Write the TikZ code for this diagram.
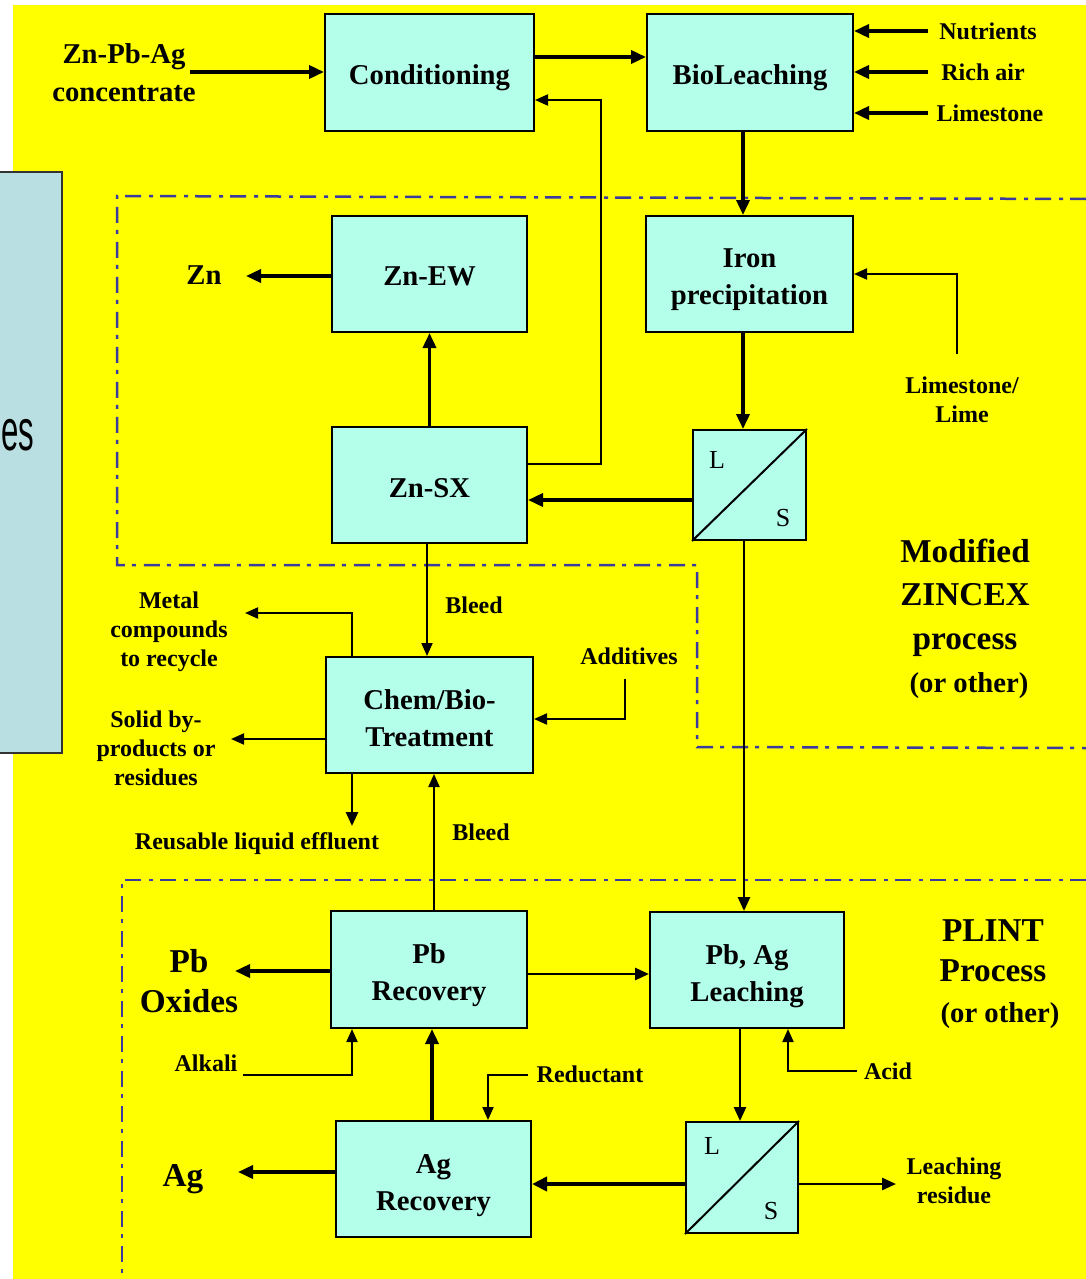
\documentclass[tikz,border=0pt]{standalone}
\usepackage{fontspec}
\setmainfont{Liberation Serif}
\newfontfamily\arialf{Liberation Sans}
\usetikzlibrary{arrows.meta}
\definecolor{bgyellow}{RGB}{255,255,0}
\definecolor{boxfill}{RGB}{180,255,234}
\definecolor{panelfill}{RGB}{185,223,226}
\definecolor{regionblue}{RGB}{58,58,160}
\newcommand\fbig{\fontsize{28.7}{37}\selectfont\bfseries}
\newcommand\fsmall{\fontsize{24}{29}\selectfont\bfseries}
\newcommand\fhuge{\fontsize{33.3}{43.5}\selectfont\bfseries}
\newcommand\fls{\fontsize{26}{26}\selectfont\mdseries}
\tikzset{
 box/.style={draw=black, fill=boxfill, line width=2pt, inner sep=0pt},
 boxtext/.style={inner sep=0pt, align=center, font=\fbig},
 lbl/.style={inner sep=0pt, align=center, font=\fsmall},
 lblbig/.style={inner sep=0pt, align=center, font=\fbig},
 lblhuge/.style={inner sep=0pt, align=center, font=\fhuge},
 lslbl/.style={inner sep=0pt, font=\fls},
 thk/.style={line width=3.5pt, -{Triangle[length=15pt,width=13pt]}},
 med/.style={line width=2.6pt, -{Triangle[length=14pt,width=12pt]}},
 thn/.style={line width=2pt, -{Triangle[length=13pt,width=11pt]}},
 plain/.style={line width=2pt},
 region/.style={draw=regionblue, line width=2.5pt, dash pattern=on 16pt off 7pt on 4pt off 8pt},
}
\begin{document}
\begin{tikzpicture}[x=1pt,y=-1pt]
\useasboundingbox (0,0) rectangle (1086,1279);
% backgrounds
\fill[white] (0,0) rectangle (1086,1279);
\fill[bgyellow] (13,5) rectangle (1086,1279);
% left panel
\fill[panelfill] (-2,172) rectangle (62,753);
\node[anchor=base west, inner sep=0pt, font=\arialf\fontsize{40}{40}\selectfont] (paneltext) at (1,450) {\scalebox{0.78}[1.45]{es}};
\draw[line width=2pt, draw=black!80] (-2,172) rectangle (62,753);
% regions
\draw[region] (1086,199) -- (117,196) -- (117,565) -- (697,565) -- (697,747) -- (1086,748);
\draw[region] (1086,880) -- (122,880) -- (122,1282);

% process boxes
\node[box, minimum width=209pt, minimum height=117pt] (cond) at (429.5,72.5) {};
\node[box, minimum width=206pt, minimum height=117pt] (bio) at (750,72.5) {};
\node[box, minimum width=195pt, minimum height=116pt] (znew) at (429.5,274) {};
\node[box, minimum width=207pt, minimum height=116pt] (iron) at (749.5,274) {};
\node[box, minimum width=195pt, minimum height=116pt] (znsx) at (429.5,485) {};
\node[box, minimum width=113pt, minimum height=110pt] (ls1) at (749.5,485) {};
\node[box, minimum width=207pt, minimum height=116pt] (chem) at (429.5,715) {};
\node[box, minimum width=196pt, minimum height=117pt] (pbrec) at (429,969.5) {};
\node[box, minimum width=194pt, minimum height=116pt] (leach) at (747,970) {};
\node[box, minimum width=195pt, minimum height=116pt] (agrec) at (433.5,1179) {};
\node[box, minimum width=112pt, minimum height=111pt] (ls2) at (742,1177.5) {};
% box texts
\node[boxtext] (condt) at ([yshift=-5pt]cond.center) {Conditioning};
\node[boxtext] (biot) at ([yshift=-5pt]bio.center) {BioLeaching};
\node[boxtext] (znewt) at ([yshift=-2pt]znew.center) {Zn-EW};
\node[boxtext] (iront) at ([yshift=-6pt]iron.center) {Iron\\precipitation};
\node[boxtext] (znsxt) at ([yshift=-3pt]znsx.center) {Zn-SX};
\node[boxtext] (chemt) at ([yshift=-3pt]chem.center) {Chem/Bio-\\Treatment};
\node[boxtext] (pbrect) at ([yshift=-6pt]pbrec.center) {Pb\\Recovery};
\node[boxtext] (leacht) at ([yshift=-6pt]leach.center) {Pb, Ag\\Leaching};
\node[boxtext] (agrect) at ([yshift=-7pt]agrec.center) {Ag\\Recovery};
% separators
\draw[plain] (ls1.south west) -- (ls1.north east);
\node[lslbl] (ls1L) at (717,460) {L};
\node[lslbl] (ls1S) at (783,518) {S};
\draw[plain] (ls2.south west) -- (ls2.north east);
\node[lslbl] (ls2L) at (712,1146) {L};
\node[lslbl] (ls2S) at (771,1211) {S};

% labels
\node[lblbig] (feedlbl) at (124,73) {Zn-Pb-Ag\\[1pt]concentrate};
\node[lbl] (nutlbl) at (988,31) {Nutrients};
\node[lbl] (airlbl) at (983,72) {Rich air};
\node[lbl] (limlbl) at (990,113) {Limestone};
\node[lbl] (limelbl) at (962,400) {Limestone/\\Lime};
\node[lblbig] (znlbl) at (204,275) {Zn};
\node[lbl] (metallbl) at (169,632) {Metal\\compounds\\to recycle};
\node[lbl] (solidlbl) at (156,748) {Solid by-\\products or\\residues};
\node[lbl] (reuselbl) at (257,844) {Reusable liquid effluent};
\node[lbl] (bleed1) at (474,605) {Bleed};
\node[lbl] (bleed2) at (481,832) {Bleed};
\node[lbl] (addlbl) at (629,656) {Additives};
\node[lblhuge] (zincex) at (965,597.5) {Modified\\ZINCEX\\process};
\node[lblbig] (other1) at (969,686) {(or other)};
\node[lblhuge] (plint) at (993,951) {PLINT\\[-3.5pt]Process};
\node[lblbig] (other2) at (1000,1016) {(or other)};
\node[lblhuge] (pbolbl) at (189,981) {Pb\\[-3.5pt]Oxides};
\node[lblhuge] (aglbl) at (183,1179) {Ag};
\node[lbl] (alklbl) at (206,1063) {Alkali};
\node[lbl] (redlbl) at (590,1074) {Reductant};
\node[lbl] (acidlbl) at (888,1071) {Acid};
\node[lbl] (residlbl) at (954,1181) {Leaching\\residue};

% connector helper coordinates
\coordinate (feed) at (190,72);
\coordinate (y57) at (0,57);
\coordinate (y464) at (0,464);
\coordinate (rc) at (601,100);
\coordinate (nut) at (928,31);
\coordinate (air) at (928,72);
\coordinate (lim) at (928,113);
\coordinate (x743) at (743,0);
\coordinate (lime) at (957,354);
\coordinate (y500) at (0,500);
\coordinate (znout) at (246,276);
\coordinate (x744) at (744,0);
\coordinate (x427) at (427,0);
\coordinate (x352) at (352,0);
\coordinate (metal) at (245,613);
\coordinate (solid) at (231,739);
\coordinate (reuse) at (352,826);
\coordinate (add) at (625,679);
\coordinate (y719) at (0,719);
\coordinate (x434) at (434,0);
\coordinate (pbo) at (235,971);
\coordinate (y974) at (0,974);
\coordinate (alk) at (243,1075);
\coordinate (x432) at (432,0);
\coordinate (red) at (528,1075);
\coordinate (x488) at (488,0);
\coordinate (x740) at (740,0);
\coordinate (acid) at (857,1071);
\coordinate (x788) at (788,0);
\coordinate (y1184) at (0,1184);
\coordinate (agout) at (238,1172);
\coordinate (resid) at (896,1184);

% connectors
\draw[thk] (feed) -- (cond.west |- feed);
\draw[thk] (cond.east |- y57) -- (bio.west |- y57);
\draw[thn] (znsx.east |- y464) -| (rc) -- (cond.east |- rc);
\draw[thk] (nut) -- (bio.east |- nut);
\draw[thk] (air) -- (bio.east |- air);
\draw[thk] (lim) -- (bio.east |- lim);
\draw[thk] (bio.south -| x743) -- (iron.north -| x743);
\draw[thn] (lime) |- (iron.east);
\draw[thk] (iron.south -| x743) -- (ls1.north -| x743);
\draw[thk] (ls1.west |- y500) -- (znsx.east |- y500);
\draw[thk] (znsx.north) -- (znew.south);
\draw[thk] (znew.west |- znout) -- (znout);
\draw[med] (ls1.south -| x744) -- (leach.north -| x744);
\draw[thn] (znsx.south -| x427) -- (chem.north -| x427);
\draw[thn] (chem.north -| x352) |- (metal);
\draw[thn] (chem.west |- solid) -- (solid);
\draw[med] (chem.south -| x352) -- (reuse);
\draw[thn] (add) |- (chem.east |- y719);
\draw[thn] (pbrec.north -| x434) -- (chem.south -| x434);
\draw[thk] (pbrec.west |- pbo) -- (pbo);
\draw[med] (pbrec.east |- y974) -- (leach.west |- y974);
\draw[thn] (alk) -| (pbrec.south -| x352);
\draw[thk] (agrec.north -| x432) -- (pbrec.south -| x432);
\draw[thn] (red) -| (agrec.north -| x488);
\draw[med] (leach.south -| x740) -- (ls2.north -| x740);
\draw[thn] (acid) -| (leach.south -| x788);
\draw[line width=4.5pt, -{Triangle[length=15pt,width=14pt]}] (ls2.west |- y1184) -- (agrec.east |- y1184);
\draw[thk] (agrec.west |- agout) -- (agout);
\draw[med] (ls2.east |- y1184) -- (resid);
\end{tikzpicture}
\end{document}
